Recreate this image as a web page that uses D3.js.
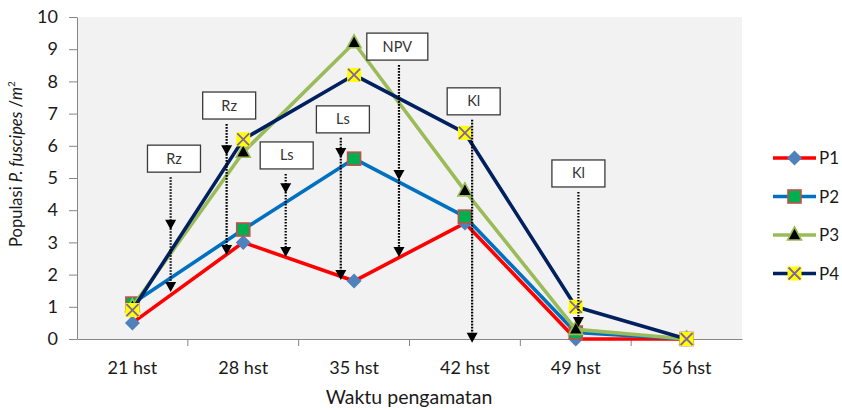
<!DOCTYPE html>
<html>
<head>
<meta charset="utf-8">
<script src="https://cdn.jsdelivr.net/npm/d3@7"></script>
<style>
  html, body { margin: 0; padding: 0; background: #ffffff; }
  svg { display: block; }
  text { font-family: Lato, "Open Sans", sans-serif; }
</style>
</head>
<body>
<svg id="chart" width="842" height="410"></svg>
<script>
// Observation times
const categories = ["21 hst", "28 hst", "35 hst", "42 hst", "49 hst", "56 hst"];

// Population of P. fuscipes per m² for each treatment
const seriesNames = ["P1", "P2", "P3", "P4"];
const p1 = [0.5, 3.0, 1.8, 3.6, 0.0, 0.0];
const p2 = [1.1, 3.4, 5.6, 3.8, 0.2, 0.0];
const p3 = [1.0, 5.8, 9.2, 4.6, 0.3, 0.0];
const p4 = [0.9, 6.2, 8.2, 6.4, 1.0, 0.0];

const yTicks = [0, 1, 2, 3, 4, 5, 6, 7, 8, 9, 10];

// Callout annotations: x in category-index units, y in data units
const annLabels  = ["Rz", "Rz", "Ls", "Ls", "NPV", "Kl", "Kl"];
const annBoxX    = [0.375, 0.873, 1.392, 1.899, 2.39, 3.079, 4.024];
const annBoxTop  = [6.02, 7.67, 6.12, 7.24, 9.50, 7.80, 5.56];
const annArrowX  = [0.345, 0.85, 1.383, 1.88, 2.405, 3.065, 4.024];
const annTips    = [[3.39, 1.46], [5.71, 2.61], [4.53, 2.55], [5.62, 1.83], [4.94, 2.55], [-0.12], [0.37]];

const svg = d3.select("#chart");
const plot = { left: 77, right: 742, top: 17, bottom: 339 };

const x = d3.scaleBand().domain(categories).range([plot.left, plot.right]);
const y = d3.scaleLinear().domain([0, 10]).range([plot.bottom, plot.top]);
// continuous helper: category index -> pixel at band centre
const xi = d3.scaleLinear().domain([0, categories.length - 1])
  .range([x(categories[0]) + x.bandwidth() / 2, x(categories[categories.length - 1]) + x.bandwidth() / 2]);

// plot area background
svg.append("rect")
  .attr("x", plot.left).attr("y", plot.top)
  .attr("width", plot.right - plot.left).attr("height", plot.bottom - plot.top)
  .attr("fill", "#f2f2f2");

// y axis
const yAxis = svg.append("g")
  .attr("transform", `translate(${plot.left},0)`)
  .call(d3.axisLeft(y).tickValues(yTicks).tickFormat(d3.format("d")).tickSize(8).tickSizeOuter(0).tickPadding(11));
yAxis.selectAll("path, line").attr("stroke", "#868686").attr("stroke-width", 1);
yAxis.selectAll("text").attr("font-size", 18).attr("fill", "#1a1a1a")
  .attr("font-family", "Lato, sans-serif");

// x axis: ticks between categories
const xAxis = svg.append("g")
  .attr("transform", `translate(0,${plot.bottom})`)
  .call(d3.axisBottom(x).tickSize(0).tickPadding(22));
xAxis.select("path").attr("stroke", "#868686").attr("stroke-width", 1);
xAxis.selectAll("text").attr("font-size", 18).attr("fill", "#1a1a1a")
  .attr("font-family", "Lato, sans-serif");
xAxis.selectAll("line.sep")
  .data(categories.slice(1))
  .enter().append("line").attr("class", "sep")
  .attr("x1", d => x(d)).attr("x2", d => x(d))
  .attr("y1", 0).attr("y2", 7)
  .attr("stroke", "#868686").attr("stroke-width", 1);

// axis titles
svg.append("text")
  .attr("x", 409).attr("y", 404)
  .attr("text-anchor", "middle")
  .attr("font-size", 19.5).attr("fill", "#1a1a1a")
  .text("Waktu pengamatan");

const yTitle = svg.append("text")
  .attr("transform", "translate(22,164) rotate(-90)")
  .attr("text-anchor", "middle")
  .attr("font-size", 16.5).attr("fill", "#1a1a1a");
yTitle.append("tspan").text("Populasi ");
yTitle.append("tspan").attr("font-style", "italic").text("P. fuscipes");
yTitle.append("tspan").text(" /");
yTitle.append("tspan").attr("font-style", "italic").text("m");
yTitle.append("tspan").attr("font-size", 10).attr("dy", -7).text("2");

// series styling
const styles = [
  { line: "#ff0000", marker: "diamond" },
  { line: "#0070c0", marker: "square" },
  { line: "#9bbb59", marker: "triangle" },
  { line: "#002060", marker: "xsquare" }
];
const seriesData = [p1, p2, p3, p4];

function drawMarker(g, type, cx, cy) {
  if (type === "diamond") {
    g.append("path")
      .attr("d", `M${cx},${cy - 7.5}L${cx + 7.5},${cy}L${cx},${cy + 7.5}L${cx - 7.5},${cy}Z`)
      .attr("fill", "#4f81bd");
  } else if (type === "square") {
    g.append("rect").attr("x", cx - 6.5).attr("y", cy - 6.5).attr("width", 13).attr("height", 13)
      .attr("fill", "#00b050").attr("stroke", "#c0504d").attr("stroke-width", 1.6);
  } else if (type === "triangle") {
    g.append("path")
      .attr("d", `M${cx},${cy - 8}L${cx + 7},${cy + 5}L${cx - 7},${cy + 5}Z`)
      .attr("fill", "#000000").attr("stroke", "#9bbb59").attr("stroke-width", 1.6);
  } else {
    g.append("rect").attr("x", cx - 7).attr("y", cy - 7).attr("width", 14).attr("height", 14)
      .attr("fill", "#ffff00");
    g.append("path")
      .attr("d", `M${cx - 6},${cy - 6}L${cx + 6},${cy + 6}M${cx + 6},${cy - 6}L${cx - 6},${cy + 6}`)
      .attr("stroke", "#8064a2").attr("stroke-width", 1.8);
  }
}

const line = d3.line()
  .x((d, i) => x(categories[i]) + x.bandwidth() / 2)
  .y(d => y(d));

seriesData.forEach((vals, s) => {
  const g = svg.append("g");
  g.append("path").datum(vals)
    .attr("d", line)
    .attr("fill", "none")
    .attr("stroke", styles[s].line)
    .attr("stroke-width", 3.6)
    .attr("stroke-linejoin", "round");
  vals.forEach((v, i) => drawMarker(g, styles[s].marker, x(categories[i]) + x.bandwidth() / 2, y(v)));
});

// callouts with dotted arrows
const boxW = 53, boxH = 27;
annLabels.forEach((lab, k) => {
  const g = svg.append("g");
  const w = lab === "NPV" ? 61 : boxW;
  const bx = xi(annBoxX[k]) - w / 2;
  const by = y(annBoxTop[k]);
  const ax = xi(annArrowX[k]);
  const tips = annTips[k];
  const endY = y(tips[tips.length - 1]);
  g.append("line")
    .attr("x1", ax).attr("x2", ax)
    .attr("y1", by + boxH + 5).attr("y2", endY - 6)
    .attr("stroke", "#000").attr("stroke-width", 2.2)
    .attr("stroke-dasharray", "1.6,1.4");
  tips.forEach(t => {
    const ty = y(t);
    g.append("path")
      .attr("d", `M${ax},${ty}L${ax + 5.5},${ty - 10}L${ax - 5.5},${ty - 10}Z`)
      .attr("fill", "#000");
  });
  g.append("rect")
    .attr("x", bx).attr("y", by).attr("width", w).attr("height", boxH)
    .attr("fill", "#ffffff").attr("stroke", "#3a3a3a").attr("stroke-width", 1.3);
  g.append("text")
    .attr("x", bx + w / 2).attr("y", by + boxH / 2 + 5)
    .attr("text-anchor", "middle")
    .attr("font-size", 14.5).attr("fill", "#333")
    .text(lab);
});

// legend
const legend = svg.append("g");
seriesNames.forEach((name, s) => {
  const ly = 158 + s * 38.5;
  const g = legend.append("g");
  g.append("line").attr("x1", 773).attr("x2", 816).attr("y1", ly).attr("y2", ly)
    .attr("stroke", styles[s].line).attr("stroke-width", 3.6);
  drawMarker(g, styles[s].marker, 794.5, ly);
  g.append("text").attr("x", 819).attr("y", ly + 6)
    .attr("font-size", 17).attr("fill", "#1a1a1a").text(name);
});
</script>
</body>
</html>
